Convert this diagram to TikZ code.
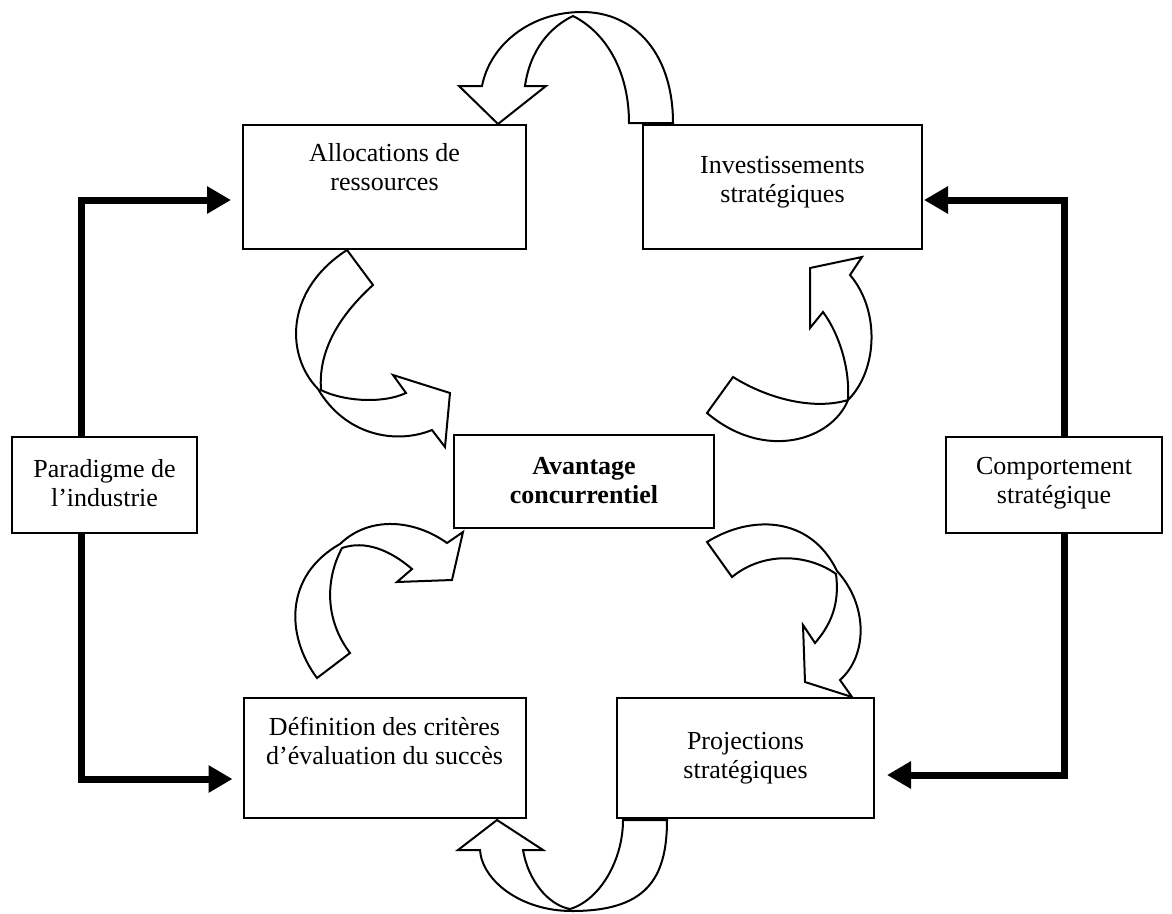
\documentclass[tikz,border=0pt]{standalone}
\usepackage{fontspec}
\setmainfont{Liberation Serif}
\usetikzlibrary{arrows.meta}

\begin{document}
\begin{tikzpicture}[x=1pt,y=-1pt,
  box/.style={draw, line width=2pt, inner sep=0pt, outer sep=0pt},
  txt/.style={align=center, font=\fontsize{26}{29}\selectfont, inner sep=0pt},
  flow/.style={line width=7pt, -{Triangle[length=24pt,width=26pt]}},
  ribbon/.style={draw, fill=white, line width=2pt, line join=miter}]

\useasboundingbox (0,0) rectangle (1172,913);

% boxes
\node[box, minimum width=283pt, minimum height=124pt] (alloc) at (384.5,187) {};
\node[box, minimum width=279pt, minimum height=124pt] (invest) at (782.5,187) {};
\node[box, minimum width=185pt, minimum height=96pt] (para) at (104.5,485) {};
\node[box, minimum width=260pt, minimum height=93pt] (avant) at (584,481.5) {};
\node[box, minimum width=216pt, minimum height=96pt] (comp) at (1054,485) {};
\node[box, minimum width=282pt, minimum height=120pt] (defin) at (384.5,758) {};
\node[box, minimum width=257pt, minimum height=120pt] (proj) at (745.5,758) {};

% box texts
\node[txt] (alloctxt) at (384.5,167) {Allocations de\\ressources};
\node[txt] (investtxt) at (782.5,182) {Investissements\\stratégiques};
\node[txt] (paratxt) at (104.5,483) {Paradigme de\\l’industrie};
\node[txt, font=\fontsize{26}{29}\selectfont\bfseries] (avanttxt) at (584,481) {Avantage\\concurrentiel};
\node[txt] (comptxt) at (1054,483) {Comportement\\stratégique};
\node[txt] (defintxt) at (384.5,741) {Définition des critères\\d’évaluation du succès};
\node[txt] (projtxt) at (745.5,758) {Projections\\stratégiques};

% thick feedback arrows
\draw[flow, shorten >=12pt] ([xshift=-23.5pt]para.north) |- ([yshift=-13pt]alloc.west);
\draw[flow, shorten >=11pt] ([xshift=-23.5pt]para.south) |- ([yshift=-21pt]defin.west);
\draw[flow, shorten >=2pt] ([xshift=10pt]comp.north) |- ([yshift=-13pt]invest.east);
\draw[flow, shorten >=13pt] ([xshift=10pt]comp.south) |- ([yshift=-17pt]proj.east);

% curved block arrows of the cycle
% investissements -> allocations (over the top)
\draw[ribbon] (629,123) -- (673,123)
  .. controls (673,55) and (636,12) .. (582,12)
  .. controls (530,12) and (490,45) .. (482,86)
  -- (459,86) -- (498,124) -- (546,86) -- (525,86)
  .. controls (530,50) and (550,27) .. (573,16)
  .. controls (605,32) and (629,70) .. (629,123) -- cycle;

% allocations -> avantage
\draw[ribbon] (347,250) -- (373,285)
  .. controls (340,315) and (318,350) .. (321,390)
  .. controls (340,400) and (380,405) .. (406,393)
  -- (393,375) -- (450,393) -- (445,447) -- (432,430)
  .. controls (395,445) and (345,435) .. (318,389)
  .. controls (285,355) and (285,290) .. (347,250) -- cycle;

% avantage -> investissements
\draw[ribbon] (707,413) -- (733,377)
  .. controls (770,400) and (815,410) .. (848,400)
  .. controls (850,370) and (840,335) .. (823,312)
  -- (810,328) -- (810,268) -- (862,257) -- (850,275)
  .. controls (880,310) and (878,370) .. (848,400)
  .. controls (832,440) and (765,462) .. (707,413) -- cycle;

% definition -> avantage
\draw[ribbon] (317,678) -- (350,653)
  .. controls (325,620) and (325,580) .. (342,548)
  .. controls (365,540) and (390,550) .. (412,569)
  -- (397,582) -- (452,580) -- (463,532) -- (447,543)
  .. controls (415,520) and (370,515) .. (340,544)
  .. controls (285,575) and (285,635) .. (317,678) -- cycle;

% avantage -> projections
\draw[ribbon] (707,542)
  .. controls (750,515) and (810,515) .. (837,571)
  .. controls (868,605) and (868,655) .. (840,680)
  -- (852,697) -- (805,682) -- (803,625) -- (815,643)
  .. controls (835,620) and (839,598) .. (836,574)
  .. controls (810,555) and (765,550) .. (732,577) -- cycle;

% projections -> definition (under the bottom)
\draw[ribbon] (623,820) -- (667,820)
  .. controls (667,880) and (645,911) .. (572,911)
  .. controls (520,911) and (482,880) .. (480,850)
  -- (458,850) -- (497,820) -- (543,850) -- (523,850)
  .. controls (528,880) and (548,905) .. (570,909)
  .. controls (600,900) and (623,860) .. (623,820) -- cycle;

\end{tikzpicture}
\end{document}
